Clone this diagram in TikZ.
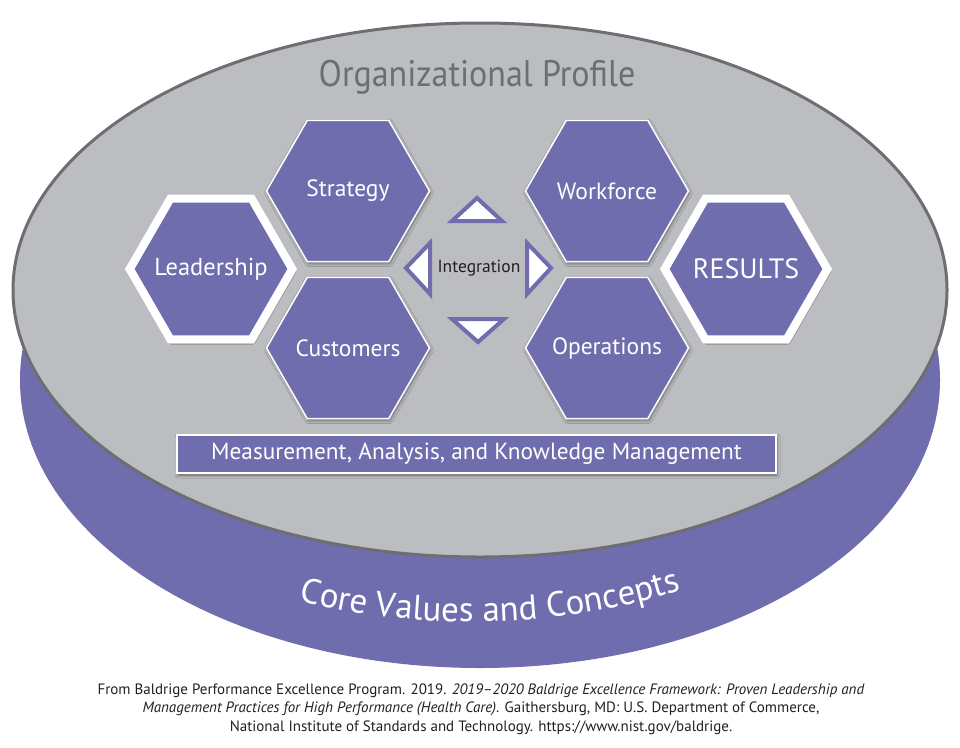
\documentclass[tikz,border=0pt]{standalone}
\usepackage{fontspec}
\setmainfont{PT Sans}
\newfontfamily\condfont[FakeStretch=0.92]{PT Sans}
\usetikzlibrary{shapes.geometric,shadows.blur,decorations.text}
\definecolor{bpurple}{RGB}{112,109,175}
\definecolor{bgrey}{RGB}{188,189,192}
\definecolor{bdark}{RGB}{109,110,113}
\definecolor{btext}{RGB}{35,31,32}
\newcommand{\corefnt}{\fontsize{35}{40}\selectfont}
\newcommand{\zw}[1]{\makebox[0pt]{#1}}
\begin{document}
\begin{tikzpicture}[x=1pt,y=-1pt,
  sh/.style={blur shadow={shadow xshift=1pt,shadow yshift=-2pt,shadow blur radius=3pt,shadow opacity=45}},
  hexbox/.style={regular polygon,regular polygon sides=6,minimum size=163pt,inner sep=0pt,
     fill=bpurple,draw=white,line width=1.5pt,text=white,font=\fontsize{23.5}{27}\selectfont,sh},
  bighex/.style={hexbox,minimum size=162.5pt,line width=8.2pt},
  tri/.style={draw=bpurple,fill=white,line width=4pt,line join=miter},
  lbl/.style={inner sep=0pt}]
\useasboundingbox (0,0) rectangle (960,747);
% cylinder
\fill[bpurple] (480,380) ellipse [x radius=460, y radius=288];
\draw[fill=bgrey,draw=bdark,line width=3pt] (480,290) ellipse [x radius=467, y radius=267];
\node[lbl,text=bdark,font=\condfont\fontsize{37}{42}\selectfont] (op) at (477,77) {Organizational Profile};
% hexagons
\node[hexbox] (strategy) at (348,191) {\zw{Strategy}};
\node[hexbox] (customers) at (348,348) {\zw{Customers}};
\node[hexbox] (workforce) at (607,191) {\zw{Workforce}};
\node[hexbox] (operations) at (607,348) {\zw{Operations}};
\node[bighex,font=\fontsize{24.5}{28}\selectfont] (leadership) at (211,269) {\zw{Leadership}};
\node[bighex,font=\fontsize{28}{32}\selectfont] (results) at (746,269) {\zw{RESULTS}};
% integration
\node[lbl,text=btext,font=\fontsize{17.5}{21}\selectfont] (integ) at (479,268) {Integration};
\draw[tri] (477,198) -- (452,221) -- (502,221) -- cycle;
\draw[tri] (452,319) -- (504,319) -- (478,342) -- cycle;
\draw[tri] (406,268) -- (430,243) -- (430,294) -- cycle;
\draw[tri] (551,268) -- (527,243) -- (527,294) -- cycle;
% measurement
\node[draw=white,line width=2pt,fill=bpurple,minimum width=599pt,minimum height=38pt,inner sep=0pt,
  text=white,font=\fontsize{23.3}{26}\selectfont,sh] (mak) at (476.5,454) {Measurement, Analysis, and Knowledge Management};
% core values
\path[decorate,decoration={text along path,text align=center,text color=white,
  text={|\corefnt|Core Values and Concepts}}]
  (292,598) .. controls (400,631) and (560,631) .. (688,588);
% caption
\node[lbl,align=center,text=btext,font=\fontsize{15}{18.5}\selectfont] (cap) at (481,709)
 {From Baldrige Performance Excellence Program. 2019. \textit{2019–2020 Baldrige Excellence Framework: Proven Leadership and}\\
 \textit{Management Practices for High Performance (Health Care)}. Gaithersburg, MD: U.S. Department of Commerce,\\
 National Institute of Standards and Technology. https://www.nist.gov/baldrige.};
\end{tikzpicture}
\end{document}
